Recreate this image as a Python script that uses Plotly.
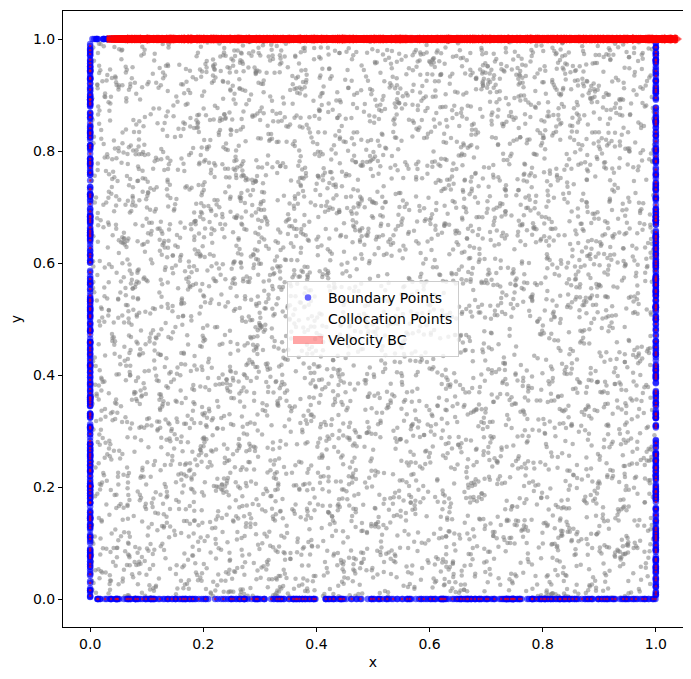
"""
Lid-driven cavity PINN sampling: boundary points, collocation points, velocity BC
"""

import numpy as np
import plotly.graph_objects as go

# 采样参数（从图上估计）：单位方形区域内的点
n_collocation = 5000
n_per_edge = 400
lid_speed = 0.04  # quiver 箭头在图上的长度（数据单位）
x_ticks = [0.0, 0.2, 0.4, 0.6, 0.8, 1.0]
y_ticks = [0.0, 0.2, 0.4, 0.6, 0.8, 1.0]

rng = np.random.default_rng(7)

# 内部配点
col_x = rng.uniform(0, 1, n_collocation)
col_y = rng.uniform(0, 1, n_collocation)

# 四条边的边界点
t_bottom = np.sort(rng.uniform(0, 1, n_per_edge))
t_top = np.sort(rng.uniform(0.025, 1, n_per_edge))
t_left = np.sort(rng.uniform(0, 1, n_per_edge))
t_right = np.sort(rng.uniform(0, 1, n_per_edge))

bx = np.concatenate([t_bottom, t_top, np.zeros(n_per_edge), np.ones(n_per_edge),
                     rng.uniform(0, 0.03, 10)])
by = np.concatenate([np.zeros(n_per_edge), np.ones(n_per_edge), t_left, t_right,
                     np.ones(10)])

# 顶盖速度 u=1，其它壁面 u=0
wall_x = np.concatenate([t_bottom, np.zeros(n_per_edge), np.ones(n_per_edge)])
wall_y = np.concatenate([np.zeros(n_per_edge), t_left, t_right])

shaft_x, shaft_y = [], []
for xs in t_top:
    shaft_x += [xs, xs + lid_speed, None]
    shaft_y += [1.0, 1.0, None]

fig = go.Figure()

fig.add_trace(
    go.Scatter(
        x=col_x, y=col_y, mode="markers", showlegend=False,
        marker=dict(color="rgba(128,128,128,0.55)", size=4.5, line=dict(width=0)),
        hoverinfo="skip",
    )
)

fig.add_trace(
    go.Scatter(
        x=bx, y=by, mode="markers", name="Boundary Points",
        marker=dict(color="rgba(0,0,255,0.6)", size=6.5, line=dict(width=0)),
    )
)

fig.add_trace(
    go.Scatter(
        x=[None], y=[None], mode="markers", name="Collocation Points",
        marker=dict(color="rgba(128,128,128,0.15)", size=4, line=dict(width=0)),
    )
)

# 速度边界条件（quiver）
fig.add_trace(
    go.Scatter(
        x=shaft_x, y=shaft_y, mode="lines", name="Velocity BC",
        line=dict(color="rgba(255,0,0,0.35)", width=8),
    )
)
fig.add_trace(
    go.Scatter(
        x=shaft_x, y=shaft_y, mode="lines", showlegend=False,
        line=dict(color="rgba(255,0,0,0.85)", width=4),
    )
)
fig.add_trace(
    go.Scatter(
        x=t_top + lid_speed, y=np.ones(n_per_edge), mode="markers", showlegend=False,
        marker=dict(symbol="triangle-right", color="rgba(255,0,0,0.2)", size=9,
                    line=dict(width=0)),
    )
)
fig.add_trace(
    go.Scatter(
        x=wall_x[::3], y=wall_y[::3], mode="markers", showlegend=False,
        marker=dict(color="rgba(255,0,0,0.6)", size=2.5, line=dict(width=0)),
    )
)

axis_style = dict(
    showgrid=False, zeroline=False, showline=True, linecolor="black", linewidth=1,
    mirror=True, ticks="outside", ticklen=4, tickcolor="black",
    tickfont=dict(size=14, color="black"),
)

fig.update_xaxes(
    range=[-0.048, 1.048], tickvals=x_ticks, ticktext=[f"{v:.1f}" for v in x_ticks],
    title=dict(text="x", font=dict(size=14, color="black"), standoff=6), **axis_style,
)
fig.update_yaxes(
    range=[-0.05, 1.05], tickvals=y_ticks, ticktext=[f"{v:.1f}" for v in y_ticks],
    title=dict(text="y", font=dict(size=14, color="black"), standoff=10), **axis_style,
)

fig.update_layout(
    width=691, height=679,
    margin=dict(l=55, r=16, t=3, b=60),
    plot_bgcolor="white", paper_bgcolor="white",
    font=dict(family="DejaVu Sans", size=14, color="black"),
    legend=dict(
        x=0.5, y=0.5, xanchor="center", yanchor="middle",
        bgcolor="rgba(255,255,255,0.8)", bordercolor="#cccccc", borderwidth=1,
        font=dict(size=14),
    ),
)

fig.write_html("out.html")
